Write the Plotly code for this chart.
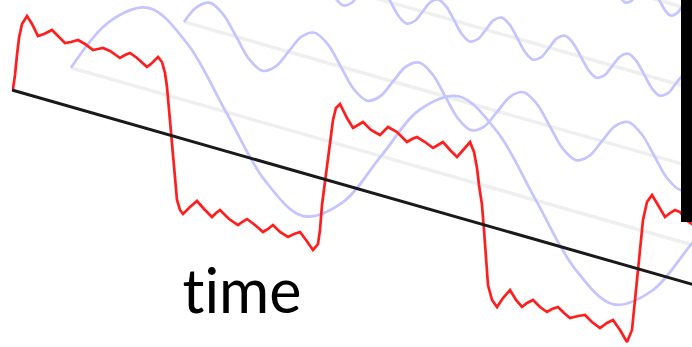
import plotly.graph_objects as go

# ---- data (x = time position, y = screen level) ----
# time axis (black)
axis_t = [12, 700]
axis_y = [90, 286.5]

# square-wave partial sum (red)
red_t = [13, 15, 17, 19, 22, 27,
         32, 38, 44, 52, 58, 65, 71, 78, 85, 93, 98, 103, 110, 120, 125, 130, 137, 147, 152, 158, 162, 165,
         167, 170, 173, 175, 177, 180, 183,
         190, 197, 204, 212, 216, 220, 229, 238, 242, 247, 255, 263, 268, 273, 280, 288, 294, 300, 306, 313, 318,
         320, 322, 325, 328, 330, 333, 336, 340,
         347, 353, 358, 363, 371, 380, 384, 388, 397, 407, 412, 417, 425, 433, 438, 443, 450, 457, 464, 470, 474, 477,
         479, 482, 484, 486, 488, 492, 497,
         503, 510, 516, 522, 527, 533, 540, 547, 552, 558, 564, 570, 578, 585, 592, 600, 607, 613, 620, 627, 632,
         634, 636, 638, 641, 643, 647, 652,
         658, 665, 670, 675, 680, 686, 692, 700]
red_y = [89, 75, 55, 38, 24, 16,
         24, 36, 34, 30, 36, 43, 42, 40, 44, 50, 49, 48, 51, 58, 55, 53, 58, 67, 63, 57, 62, 73,
         87, 120, 150, 180, 200, 210, 214,
         207, 201, 209, 217, 213, 210, 219, 225, 222, 219, 225, 232, 229, 225, 232, 237, 234, 232, 240, 250, 244,
         230, 205, 182, 160, 140, 120, 108, 104,
         118, 128, 125, 122, 130, 135, 131, 127, 132, 142, 139, 137, 142, 148, 145, 142, 150, 157, 149, 142, 152, 168,
         185, 205, 230, 260, 285, 300, 307,
         298, 290, 300, 307, 303, 300, 307, 312, 309, 307, 313, 318, 316, 315, 322, 328, 323, 320, 330, 342, 330,
         310, 290, 267, 240, 220, 202, 195,
         205, 217, 213, 210, 212, 220, 224, 226]

# harmonic 1 (blue)
h1_t = [71.0, 109.8, 148.5, 187.3, 226.0, 264.8, 303.5, 342.3, 381.0, 419.8, 458.5, 497.3,
        536.0, 574.8, 613.5, 652.3, 691.0, 729.8]
h1_y = [67.8, 21.3, 7.9, 43.7, 112.0, 180.3, 216.1, 202.6, 156.2, 109.6, 96.3, 131.9,
        200.4, 268.6, 304.4, 290.5, 244.5, 197.9]

# harmonic 3 (blue)
h3_t = [184.0, 197.1, 210.1, 223.2, 236.3, 249.3, 262.4, 275.4, 288.5, 301.6,
        314.6, 327.7, 340.8, 353.8, 366.9, 379.9, 393.0, 406.1, 419.1, 432.2,
        445.3, 458.3, 471.4, 484.4, 497.5, 510.6, 523.6, 536.7, 549.8, 562.8,
        575.9, 588.9, 602.0, 615.1, 628.1, 641.2, 654.3, 667.3, 680.4, 693.4, 706.5]
h3_y = [21.9, 6.9, 2.9, 14.4, 36.8, 59.3, 70.8, 66.7, 51.7, 36.7,
        32.7, 44.2, 66.6, 89.1, 100.6, 96.5, 81.5, 66.5, 62.5, 73.9,
        96.4, 118.9, 130.3, 126.3, 111.3, 96.3, 92.2, 103.7, 126.2, 148.7,
        160.1, 156.1, 141.1, 126.1, 122.0, 133.5, 156.0, 178.4, 189.9, 185.9, 170.9]

# harmonic 5 (blue)
h5_t = [296.0, 303.9, 311.8, 319.7, 327.7, 335.6, 343.5, 351.4, 359.3, 367.2,
        375.1, 383.0, 391.0, 398.9, 406.8, 414.7, 422.6, 430.5, 438.4, 446.3,
        454.3, 462.2, 470.1, 478.0, 485.9, 493.8, 501.7, 509.6, 517.6, 525.5,
        533.4, 541.3, 549.2, 557.1, 565.0, 572.9, 580.9, 588.8, 596.7, 604.6,
        612.5, 620.4, 628.3, 636.2, 644.2, 652.1, 660.0, 667.9, 675.8, 683.7,
        691.6, 699.5]
h5_y = [-24.5, -33.9, -36.5, -29.4, -15.5, -1.6, 5.5, 3.0, -6.5, -15.9,
        -18.5, -11.4, 2.6, 16.5, 23.6, 21.0, 11.6, 2.2, -0.4, 6.7,
        20.6, 34.5, 41.6, 39.0, 29.6, 20.2, 17.6, 24.7, 38.6, 52.6,
        59.7, 57.1, 47.7, 38.2, 35.7, 42.8, 56.7, 70.6, 77.7, 75.1,
        65.7, 56.3, 53.7, 60.8, 74.7, 88.6, 95.7, 93.2, 83.7, 74.3,
        71.8, 78.9]

# harmonic 7 (blue, only its lowest swings enter the frame)
h7_t = [592.0, 597.6, 603.3, 608.9, 614.5, 620.1, 625.8, 631.4, 637.0, 642.6,
        648.3, 653.9, 659.5, 665.1, 670.8, 676.4, 682.0, 687.6, 693.3, 698.9]
h7_y = [-18.7, -25.3, -27.2, -22.1, -12.3, -2.4, 2.6, 0.8, -5.9, -12.5,
        -14.4, -9.3, 0.6, 10.4, 15.5, 13.6, 7.0, 0.3, -1.5, 3.5]

# harmonic rest lines (grey)
rest_t = [[71, 700], [184, 700], [296, 700], [412, 700]]
rest_y = [[67.8, 247.1], [21.9, 169.0], [-24.5, 90.6], [-70.0, 12.1]]

# spectrum bar (black)
bar_t = [688, 688]
bar_y = [-10, 222]

label_text = "time"
label_t = 241.5
label_y = 289

# ---- figure ----
fig = go.Figure()
for xs, ys in zip(rest_t, rest_y):
    fig.add_trace(go.Scatter(x=xs, y=ys, mode="lines",
                             line=dict(color="rgb(239,239,239)", width=3.5)))
for xs, ys in [(h7_t, h7_y), (h5_t, h5_y), (h3_t, h3_y), (h1_t, h1_y)]:
    fig.add_trace(go.Scatter(x=xs, y=ys, mode="lines",
                             line=dict(color="rgb(196,196,255)", width=2.7,
                                       shape="spline", smoothing=1)))
fig.add_trace(go.Scatter(x=red_t, y=red_y, mode="lines",
                         line=dict(color="rgb(255,30,30)", width=2.7)))
fig.add_trace(go.Scatter(x=axis_t, y=axis_y, mode="lines",
                         line=dict(color="rgb(25,25,25)", width=3)))
fig.add_trace(go.Scatter(x=bar_t, y=bar_y, mode="lines",
                         line=dict(color="black", width=14)))

fig.add_annotation(x=label_t, y=label_y, text=label_text, showarrow=False,
                   xanchor="center", yanchor="middle",
                   font=dict(family="Lato", size=61, color="black"))

fig.update_layout(
    width=692, height=347,
    margin=dict(l=0, r=0, t=0, b=0),
    paper_bgcolor="white", plot_bgcolor="white",
    showlegend=False,
    xaxis=dict(range=[0, 692], visible=False, fixedrange=True),
    yaxis=dict(range=[347, 0], visible=False, fixedrange=True),
)

fig.write_html("out.html",
               config={"displayModeBar": False},
               post_script="document.body.style.margin='0';"
                           "document.body.style.overflow='hidden';"
                           "document.querySelectorAll('.annotation-text').forEach("
                           "function(e){e.style.fontVariantLigatures='none';"
                           "e.style.fontFeatureSettings='\"liga\" 0';});")
